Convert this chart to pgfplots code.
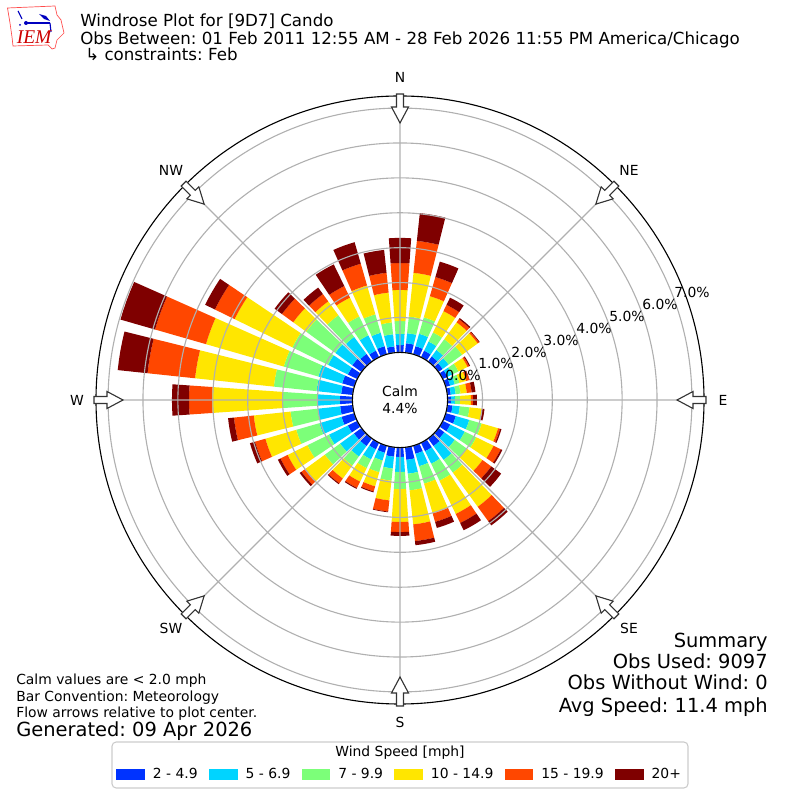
\documentclass[border=0pt]{standalone}
\usepackage{pgfplots}
\usepackage{pgfplotstable}
\usepackage{fontspec}
\usepgfplotslibrary{polar}
\pgfplotsset{compat=1.18}
\setmainfont{DejaVu Sans}
\newfontfamily\iemfont{Liberation Serif}
\frenchspacing
\definecolor{wsA}{HTML}{0033FF}
\definecolor{wsB}{HTML}{00D4FF}
\definecolor{wsC}{HTML}{7CFF79}
\definecolor{wsD}{HTML}{FFE600}
\definecolor{wsE}{HTML}{FF4700}
\definecolor{wsF}{HTML}{7F0000}
\definecolor{gridc}{HTML}{B0B0B0}
\newcommand{\fs}[1]{\fontsize{#1bp}{#1bp}\selectfont}
% cumulative frequency [%] at the outer edge of each speed class, per direction
\pgfplotstableread{
dir b c g y o m
0 .21 .53 .90 1.79 2.56 3.28
10 .27 .56 1.04 2.30 3.22 4.02
20 .24 .61 1.10 1.73 2.30 2.76
30 .21 .50 .79 1.47 1.67 1.90
40 .18 .41 .79 1.39 1.50 1.54
50 .15 .36 .84 1.39 1.44 1.46
60 .15 .30 .50 .79 .84 .87
70 .13 .27 .41 .61 .70 .71
80 .10 .24 .38 .56 .70 .81
90 .10 .21 .36 .67 .73 .84
100 .15 .36 .64 .99 1.01 1.07
110 .30 .70 1.07 1.56 1.62 1.66
120 .24 .70 1.07 1.62 1.85 1.90
130 .21 .58 1.01 1.56 1.87 2.22
140 .27 .76 1.21 2.42 2.93 3.08
150 .27 .67 1.21 2.27 2.56 2.79
160 .24 .61 1.13 2.02 2.27 2.45
170 .36 .76 1.24 2.22 2.70 2.82
180 .27 .70 1.19 2.13 2.42 2.53
190 .27 .61 .96 1.53 1.85 1.87
200 .21 .44 .79 1.21 1.36 1.39
210 .21 .53 .81 1.24 1.44 1.47
220 .27 .64 .96 1.42 1.59 1.62
230 .27 .76 1.30 1.99 2.13 2.19
240 .30 .90 1.59 2.22 2.45 2.53
250 .38 1.04 1.73 2.65 2.96 3.11
260 .36 1.01 1.79 2.85 3.42 3.59
270 .36 1.01 1.99 4.02 4.68 5.17
280 .33 1.04 2.27 4.54 5.91 6.77
290 .36 1.07 2.10 4.42 5.94 6.97
300 .30 .93 2.07 3.91 4.54 4.85
310 .33 .93 1.96 2.42 2.82 3.08
320 .27 .87 1.64 2.13 2.39 2.62
330 .21 .70 1.30 1.90 2.27 2.96
340 .24 .64 1.19 2.05 2.70 3.34
350 .18 .53 .87 1.73 2.30 2.96
}\rosedata
\def\roff{1.364}
\newcommand{\roseseg}[4]{%
  \pgfmathsetmacro\ra{#2+\roff}%
  \pgfmathsetmacro\rb{#3+\roff}%
  \pgfmathsetmacro\ta{90-#1-3.95}%
  \pgfmathsetmacro\tb{90-#1-1.975}%
  \pgfmathsetmacro\tc{90-#1}%
  \pgfmathsetmacro\td{90-#1+1.975}%
  \pgfmathsetmacro\te{90-#1+3.95}%
  \edef\temp{\noexpand\addplot[fill=#4,draw=none,forget plot] coordinates {
    (\ta,\ra)(\ta,\rb)(\tb,\rb)(\tc,\rb)(\td,\rb)(\te,\rb)(\te,\ra)(\td,\ra)(\tc,\ra)(\tb,\ra)(\ta,\ra)};}%
  \temp}
\newcommand{\compass}[1]{%
  \draw[draw=black!80,line width=.8bp,fill=white,rotate around={#1:(400,400)}]
    (396.5,706) -- (396.5,693) -- (391.5,693) -- (400,677) -- (408.5,693) -- (403.5,693) -- (403.5,706) -- cycle;}
\begin{document}
\begin{tikzpicture}[x=.72bp,y=.72bp]
\useasboundingbox (0,0) rectangle (800,800);
\begin{polaraxis}[
  at={(288bp,288bp)},anchor=center,
  width=437.76bp,height=437.76bp,scale only axis,
  xmin=0,xmax=360,ymin=0,ymax=8.71,
  xtick={0,45,...,315},xticklabels={},
  ytick={1.364,2.364,3.364,4.364,5.364,6.364,7.364,8.364},yticklabels={},
  major tick length=0pt,
  grid=both,
  grid style={gridc,line width=.8bp},
  axis line style={black,line width=.8bp},
  y axis line style={draw=none},
  axis on top,
  legend columns=6,
  legend style={at={(0.5,-0.1155)},anchor=center,draw=none,fill=none,
    font=\fs{10},inner sep=0pt,
    /tikz/every even column/.append style={column sep=6.1bp},
    /tikz/every odd column/.append style={column sep=4bp}},
  legend cell align=left,
]
\pgfplotsforeachungrouped \i in {0,...,35}{%
  \pgfplotstablegetelem{\i}{dir}\of\rosedata\let\vd\pgfplotsretval
  \pgfplotstablegetelem{\i}{b}\of\rosedata\let\vb\pgfplotsretval
  \pgfplotstablegetelem{\i}{c}\of\rosedata\let\vc\pgfplotsretval
  \pgfplotstablegetelem{\i}{g}\of\rosedata\let\vg\pgfplotsretval
  \pgfplotstablegetelem{\i}{y}\of\rosedata\let\vy\pgfplotsretval
  \pgfplotstablegetelem{\i}{o}\of\rosedata\let\vo\pgfplotsretval
  \pgfplotstablegetelem{\i}{m}\of\rosedata\let\vm\pgfplotsretval
  \roseseg{\vd}{0}{\vb}{wsA}%
  \roseseg{\vd}{\vb}{\vc}{wsB}%
  \roseseg{\vd}{\vc}{\vg}{wsC}%
  \roseseg{\vd}{\vg}{\vy}{wsD}%
  \roseseg{\vd}{\vy}{\vo}{wsE}%
  \roseseg{\vd}{\vo}{\vm}{wsF}%
}
\pgfplotsset{legend image code/.code={\fill[#1] (0bp,-3.6bp) rectangle (20bp,3.6bp);}}
\addlegendimage{wsA}\addlegendentry{2 - 4.9}
\addlegendimage{wsB}\addlegendentry{5 - 6.9}
\addlegendimage{wsC}\addlegendentry{7 - 9.9}
\addlegendimage{wsD}\addlegendentry{10 - 14.9}
\addlegendimage{wsE}\addlegendentry{15 - 19.9}
\addlegendimage{wsF}\addlegendentry{20+}
\end{polaraxis}
% centre hole
\draw[black,line width=.8bp,fill=white] (400,400) circle (47.6);
\node[font=\fs{10},align=center,inner sep=0] at (400,400) {Calm\\[2.2bp]4.4\%};
% flow arrows
\foreach \a in {0,45,...,315}{\compass{\a}}
% compass labels
\foreach \t/\px/\py in {N/400/77,NE/629/170,E/723/400,SE/629/628,S/400/722,SW/171/628,W/77/400,NW/171/170}
  \node[font=\fs{10},inner sep=0] at (\px,800-\py) {\t};
% radial labels
\foreach \t/\px/\py in {0.0/463/375,1.0/496/363,2.0/529/352,3.0/561/340,4.0/594/328,5.0/627/316,6.0/660/304,7.0/692/292}
  \node[font=\fs{10},inner sep=0] at (\px,800-\py) {\t\%};
% legend frame and title
\draw[rounded corners=3bp,draw=black!20,line width=.8bp,fill=none] (112,800-742) rectangle (688,800-788);
\node[font=\fs{10},inner sep=0] at (400,800-753) {Wind Speed [mph]};
% header
\node[font=\fs{12},anchor=base west,inner sep=0] at (80,800-27) {Windrose Plot for [9D7] Cando};
\node[font=\fs{12},anchor=base west,inner sep=0] at (80,800-44.5) {Obs Between: 01 Feb 2011 12:55 AM - 28 Feb 2026 11:55 PM America/Chicago};
\node[font=\fs{12},anchor=base west,inner sep=0] at (85,800-61) {↳ constraints: Feb};
% summary
\node[font=\fs{14},anchor=base east,inner sep=0] at (768,800-647.5) {Summary};
\node[font=\fs{14},anchor=base east,inner sep=0] at (768,800-668.5) {Obs Used: 9097};
\node[font=\fs{14},anchor=base east,inner sep=0] at (768,800-690) {Obs Without Wind: 0};
\node[font=\fs{14},anchor=base east,inner sep=0] at (768,800-712.5) {Avg Speed: 11.4 mph};
% notes
\node[font=\fs{10},anchor=base west,inner sep=0] at (16,800-685) {Calm values are < 2.0 mph};
\node[font=\fs{10},anchor=base west,inner sep=0] at (16,800-701.5) {Bar Convention: Meteorology};
\node[font=\fs{10},anchor=base west,inner sep=0] at (16,800-717.5) {Flow arrows relative to plot center.};
\node[font=\fs{14},anchor=base west,inner sep=0] at (16,800-737) {Generated: 09 Apr 2026};
% IEM logo
\draw[red!70!white,line width=.5bp] (7.5,800-8) -- (55,800-6) -- (57,800-15) -- (61,800-20) -- (64,800-33) -- (57,800-40) -- (55,800-48) -- (52,800-49) -- (48,800-45) -- (13,800-46) -- (12,800-37) -- (10,800-23) -- cycle;
\draw[blue!75!black,line width=1.2bp] (26,800-23) -- (50,800-23);
\fill[blue!75!black] (26,800-23) circle (2);
\fill[blue!75!black] (20,800-25) circle (1);
\draw[blue!75!black,line width=.8bp] (18,800-11) -- (22,800-19);
\fill[blue!75!black] (39,800-14) -- (46,800-16) -- (50,800-21) -- (44,800-19) -- cycle;
\draw[blue!75!black,line width=.8bp] (50,800-23) -- (51,800-32);
\node[font=\iemfont\itshape\fs{14},text=red!80!black,anchor=base west,inner sep=0] at (16.5,800-44) {IEM};
\end{tikzpicture}
\end{document}
